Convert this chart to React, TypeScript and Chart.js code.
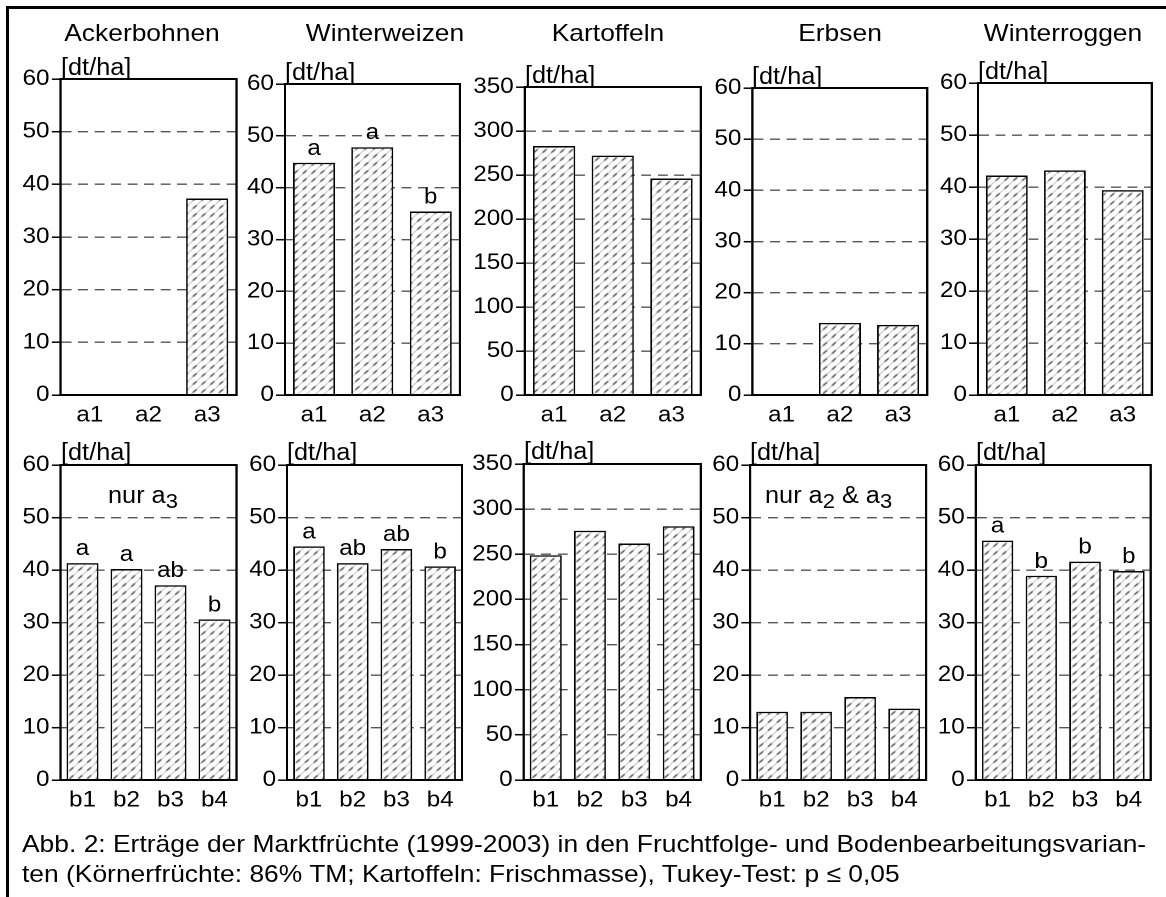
import React, { useEffect, useRef } from "react";
import { Chart, registerables } from "chart.js";

Chart.register(...registerables);

// ---------- data ----------
const cropTitles = ["Ackerbohnen", "Winterweizen", "Kartoffeln", "Erbsen", "Winterroggen"];
const rotationLabels = ["a1", "a2", "a3"];
const tillageLabels = ["b1", "b2", "b3", "b4"];
const unitLabel = "[dt/ha]";

const ackerbohnenRotation = [0, 0, 37.3];
const winterweizenRotation = [44.8, 47.8, 35.4];
const kartoffelnRotation = [283, 272, 246];
const erbsenRotation = [0, 14.1, 13.7];
const winterroggenRotation = [42.2, 43.2, 39.4];

const ackerbohnenTillage = [41.3, 40.2, 37.1, 30.6];
const winterweizenTillage = [44.5, 41.3, 44.0, 40.7];
const kartoffelnTillage = [249, 276, 262, 281];
const erbsenTillage = [13.0, 13.0, 15.8, 13.6];
const winterroggenTillage = [45.6, 38.9, 41.6, 39.8];

const winterweizenRotationLetters = ["a", "a", "b"];
const ackerbohnenTillageLetters = ["a", "a", "ab", "b"];
const winterweizenTillageLetters = ["a", "ab", "ab", "b"];
const winterroggenTillageLetters = ["a", "b", "b", "b"];

const axisMax = [60, 60, 350, 60, 60];
const axisStep = [10, 10, 50, 10, 10];

const captionLine1 =
  "Abb. 2: Erträge der Marktfrüchte (1999-2003) in den Fruchtfolge- und Bodenbearbeitungsvarian-";
const captionLine2 = "ten (Körnerfrüchte: 86% TM; Kartoffeln: Frischmasse), Tukey-Test: p ≤ 0,05";

// ---------- layout ----------
const SX = 1.1; // horizontal stretch of the whole figure
const YW = 58; // y-axis box width (compressed px)
const PT = 20;
const PR = 6;
const XH = 40;
const FONT = "'Liberation Sans', Arial, Helvetica, sans-serif";
const TICK_SIZE = 22;

type Box = [number, number, number, number]; // left, right, top, bottom (final px)
const topBoxes: Box[] = [
  [61, 237, 79, 395],
  [285, 460, 84, 395],
  [525, 701, 87, 395],
  [752, 927, 88, 395],
  [978, 1152, 83, 395],
];
const bottomBoxes: Box[] = [
  [61, 237, 465, 780],
  [287, 462, 465, 780],
  [524, 701, 464, 780],
  [750, 926, 465, 780],
  [976, 1151, 465, 780],
];
const titleCenters = [142, 385, 608, 840, 1063];

Chart.defaults.font.family = FONT;
Chart.defaults.color = "#000";

function makeHatch(ctx: CanvasRenderingContext2D): CanvasPattern | string {
  const c = document.createElement("canvas");
  c.width = 8;
  c.height = 8;
  const g = c.getContext("2d");
  if (!g) return "#ddd";
  g.fillStyle = "#fff";
  g.fillRect(0, 0, 8, 8);
  g.strokeStyle = "#a8a8a8";
  g.lineWidth = 0.9;
  g.beginPath();
  g.moveTo(0, 8);
  g.lineTo(8, 0);
  g.moveTo(-1, 1);
  g.lineTo(1, -1);
  g.moveTo(7, 9);
  g.lineTo(9, 7);
  g.stroke();
  g.strokeStyle = "#222";
  g.lineWidth = 1.2;
  g.beginPath();
  g.moveTo(2.3, 5.7);
  g.lineTo(5.7, 2.3);
  g.stroke();
  return ctx.createPattern(c, "repeat") || "#ddd";
}

const framePlugin = {
  id: "plotFrame",
  afterDatasetsDraw(chart: any) {
    const { ctx, chartArea } = chart;
    ctx.save();
    ctx.strokeStyle = "#000";
    ctx.lineWidth = 2;
    ctx.strokeRect(
      chartArea.left,
      chartArea.top,
      chartArea.right - chartArea.left,
      chartArea.bottom - chartArea.top
    );
    ctx.restore();
  },
};

const lettersPlugin = {
  id: "sigLetters",
  afterDraw(chart: any, _args: any, opts: any) {
    const letters: string[] | undefined = opts && opts.letters;
    if (!letters) return;
    const meta = chart.getDatasetMeta(0);
    const ctx = chart.ctx;
    ctx.save();
    ctx.font = `${TICK_SIZE}px ${FONT}`;
    ctx.fillStyle = "#000";
    ctx.textAlign = "center";
    ctx.textBaseline = "alphabetic";
    meta.data.forEach((el: any, i: number) => {
      const s = letters[i];
      if (s) ctx.fillText(s, el.x, el.y - 8);
    });
    ctx.restore();
  },
};

type PanelProps = {
  labels: string[];
  values: number[];
  letters?: string[];
  yMax: number;
  yStep: number;
  box: Box;
};

function Panel({ labels, values, letters, yMax, yStep, box }: PanelProps) {
  const ref = useRef<HTMLCanvasElement | null>(null);
  const [l, r, t, b] = box;
  const cl = l / SX;
  const cr = r / SX;
  const W = Math.round(cr - cl + YW + PR);
  const H = b - t + PT + XH;

  useEffect(() => {
    const canvas = ref.current;
    if (!canvas) return;
    const ctx = canvas.getContext("2d");
    if (!ctx) return;
    const chart = new Chart(canvas, {
      type: "bar",
      data: {
        labels,
        datasets: [
          {
            data: values,
            backgroundColor: makeHatch(ctx) as any,
            borderColor: "#000",
            borderWidth: 1.5,
            barPercentage: 0.72,
            categoryPercentage: 1,
          },
        ],
      },
      options: {
        animation: false,
        responsive: false,
        devicePixelRatio: 2,
        layout: { padding: { top: PT, right: PR, left: 0, bottom: 0 } },
        plugins: {
          legend: { display: false },
          tooltip: { enabled: false },
          sigLetters: { letters },
        } as any,
        scales: {
          x: {
            grid: { display: false, drawTicks: false },
            border: { color: "#000", width: 2 },
            ticks: { font: { size: TICK_SIZE }, color: "#000", padding: 7 },
            afterFit: (s: any) => {
              s.height = XH;
            },
          },
          y: {
            min: 0,
            max: yMax,
            ticks: {
              stepSize: yStep,
              font: { size: TICK_SIZE },
              color: "#000",
              padding: 2,
            },
            grid: {
              color: "#555",
              lineWidth: 1.4,
              drawTicks: true,
              tickLength: 8,
              tickColor: "#000",
              tickWidth: 1.5,
            },
            border: { color: "#000", width: 2, dash: [9, 6] },
            afterFit: (s: any) => {
              s.width = YW;
            },
          },
        },
      } as any,
      plugins: [framePlugin, lettersPlugin],
    });
    return () => chart.destroy();
  }, []);

  return (
    <canvas
      ref={ref}
      width={W}
      height={H}
      style={{ position: "absolute", left: cl - YW, top: t - PT, width: W, height: H }}
    />
  );
}

const textBase: React.CSSProperties = {
  position: "absolute",
  fontFamily: FONT,
  color: "#000",
  whiteSpace: "nowrap",
  lineHeight: 1,
};

export default function App() {
  const topSeries = [
    ackerbohnenRotation,
    winterweizenRotation,
    kartoffelnRotation,
    erbsenRotation,
    winterroggenRotation,
  ];
  const bottomSeries = [
    ackerbohnenTillage,
    winterweizenTillage,
    kartoffelnTillage,
    erbsenTillage,
    winterroggenTillage,
  ];
  const topLetters = [undefined, winterweizenRotationLetters, undefined, undefined, undefined];
  const bottomLetters = [
    ackerbohnenTillageLetters,
    winterweizenTillageLetters,
    undefined,
    undefined,
    winterroggenTillageLetters,
  ];

  return (
    <div
      style={{
        position: "absolute",
        left: 0,
        top: 0,
        width: 1166,
        height: 897,
        background: "#fff",
        overflow: "hidden",
      }}
    >
      {/* outer frame */}
      <div style={{ position: "absolute", left: 6, top: 6, width: 3, height: 891, background: "#000" }} />
      <div style={{ position: "absolute", left: 6, top: 6, width: 1160, height: 3, background: "#000" }} />

      <div
        style={{
          position: "absolute",
          left: 0,
          top: 0,
          width: 1166 / SX,
          height: 897,
          transform: `scaleX(${SX})`,
          transformOrigin: "0 0",
        }}
      >
        {cropTitles.map((title, i) => (
          <div
            key={"t" + i}
            style={{
              ...textBase,
              fontSize: 24,
              left: titleCenters[i] / SX,
              top: 33 - 0.49 * 24,
              transform: "translateX(-50%)",
            }}
          >
            {title}
          </div>
        ))}

        {topBoxes.map((box, i) => (
          <div
            key={"ut" + i}
            style={{ ...textBase, fontSize: 23, left: box[0] / SX, top: box[2] - 12 - 0.49 * 23 }}
          >
            {unitLabel}
          </div>
        ))}
        {bottomBoxes.map((box, i) => (
          <div
            key={"ub" + i}
            style={{ ...textBase, fontSize: 23, left: box[0] / SX, top: box[2] - 13 - 0.49 * 23 }}
          >
            {unitLabel}
          </div>
        ))}

        {topBoxes.map((box, i) => (
          <Panel
            key={"pt" + i}
            labels={rotationLabels}
            values={topSeries[i]}
            letters={topLetters[i]}
            yMax={axisMax[i]}
            yStep={axisStep[i]}
            box={box}
          />
        ))}
        {bottomBoxes.map((box, i) => (
          <Panel
            key={"pb" + i}
            labels={tillageLabels}
            values={bottomSeries[i]}
            letters={bottomLetters[i]}
            yMax={axisMax[i]}
            yStep={axisStep[i]}
            box={box}
          />
        ))}

        <div style={{ ...textBase, fontSize: 23, left: 108 / SX, top: 497 - 0.49 * 23 - 2 }}>
          nur a<span style={{ fontSize: 20, position: "relative", top: 5 }}>3</span>
        </div>
        <div style={{ ...textBase, fontSize: 23, left: 765 / SX, top: 497 - 0.49 * 23 - 2 }}>
          nur a<span style={{ fontSize: 20, position: "relative", top: 5 }}>2</span> &amp; a
          <span style={{ fontSize: 20, position: "relative", top: 5 }}>3</span>
        </div>

        <div style={{ ...textBase, fontSize: 24, lineHeight: "30px", left: 22 / SX, top: 829 }}>
          {captionLine1}
          <br />
          {captionLine2}
        </div>
      </div>
    </div>
  );
}
